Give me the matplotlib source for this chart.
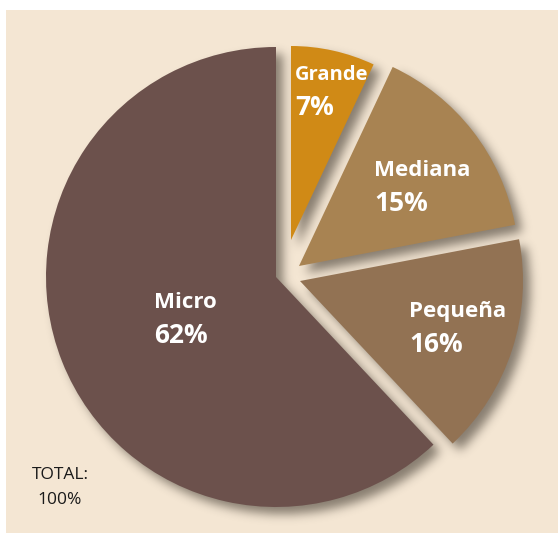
import numpy as np
import matplotlib
matplotlib.use("Agg")
import matplotlib.pyplot as plt
from matplotlib.patches import Rectangle

# --- data ---
labels = ['Grande', 'Mediana', 'Pequeña', 'Micro']
shares = [7, 15, 16, 62]
colors = ['#d08a16', '#a88352', '#927253', '#6c514c']

# --- layout (pixels, image y grows downward) ---
W, H = 558, 533
tips_px = [(291, 240), (299, 266), (300, 281), (276, 277)]   # slice tips
radii_px = [194, 220, 223, 230]
label_px = [(295, 80), (374, 176), (409, 317), (154, 308)]   # left, baseline
label_size = [14.5, 16, 16, 16]
BG = '#f4e6d3'
FONT = ['Open Sans', 'DejaVu Sans']

fig = plt.figure(figsize=(W / 100, H / 100), dpi=100)
fig.patch.set_facecolor('white')
ax = fig.add_axes([0, 0, 1, 1])

wedges, _ = ax.pie(shares, colors=colors, startangle=90, counterclock=False,
                   wedgeprops={'linewidth': 0})

# move every slice to its own tip / radius (data y goes up)
for w, (tx, ty), r in zip(wedges, tips_px, radii_px):
    w.set_center((tx, H - ty))
    w.set_radius(r)
    w.set_zorder(3)

ax.set_aspect('auto')
ax.axis('off')

# beige panel
ax.add_patch(Rectangle((6, 0), W - 6, H - 10, facecolor=BG, edgecolor='none', zorder=0))

# --- soft drop shadow: rasterise the slices, shift, blur ---
xx, yy = np.meshgrid(np.arange(W) + 0.5, np.arange(H) + 0.5)
off_x, off_y = 7, -7
mask = np.zeros((H, W))
for w in wedges:
    cx, cy = w.center
    dx = xx - (cx + off_x)
    dy = yy - (cy + off_y)
    ang = np.degrees(np.arctan2(dy, dx))
    span = w.theta2 - w.theta1
    inside = (np.hypot(dx, dy) <= w.r) & (((ang - w.theta1) % 360) <= span)
    mask[inside] = 1.0

sigma = 5.0
k = np.arange(-15, 16)
kern = np.exp(-k ** 2 / (2 * sigma ** 2))
kern /= kern.sum()
blur = np.apply_along_axis(lambda v: np.convolve(v, kern, mode='same'), 1, mask)
blur = np.apply_along_axis(lambda v: np.convolve(v, kern, mode='same'), 0, blur)

shadow = np.zeros((H, W, 4))
shadow[..., 0] = 0.14
shadow[..., 1] = 0.11
shadow[..., 2] = 0.08
shadow[..., 3] = 0.52 * blur
ax.imshow(shadow, extent=(0, W, 0, H), origin='lower', zorder=1,
          interpolation='bilinear', aspect='auto')
ax.set_xlim(0, W)
ax.set_ylim(0, H)

# --- slice labels ---
for lab, val, (lx, ly), fs in zip(labels, shares, label_px, label_size):
    ax.text(lx, H - ly, lab, color='white', fontsize=fs, fontweight='bold',
            family=FONT, ha='left', va='baseline', zorder=5)
    ax.text(lx, H - ly - 35, f'{val}%', color='white', fontsize=19, fontweight='bold',
            family=FONT, ha='left', va='baseline', zorder=5)

ax.text(60, H - 479, 'TOTAL:', color='#1a1a1a', fontsize=12.5, family=FONT,
        ha='center', va='baseline', zorder=5)
ax.text(60, H - 504, f'{sum(shares)}%', color='#1a1a1a', fontsize=12.5, family=FONT,
        ha='center', va='baseline', zorder=5)

fig.savefig('out.png', dpi=100, facecolor=fig.get_facecolor())
